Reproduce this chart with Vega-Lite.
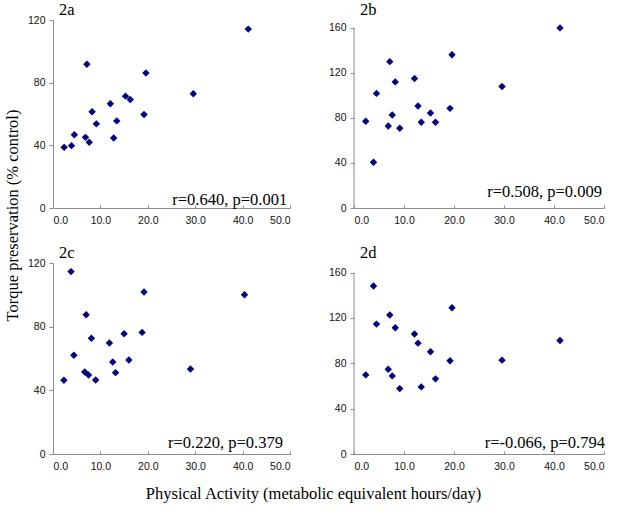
{
  "$schema": "https://vega.github.io/schema/vega-lite/v6.json",
  "background": "white",
  "padding": {"left": 4, "top": 1, "right": 5, "bottom": 5},
  "config": {
    "view": {"stroke": null},
    "axis": {
      "grid": false,
      "domainColor": "#8c8c8c",
      "tickColor": "#8c8c8c",
      "labelFont": "Liberation Sans",
      "labelFontSize": 10.5,
      "labelColor": "#111111",
      "titleFont": "Liberation Serif",
      "titleFontSize": 16.5,
      "titleFontWeight": "normal",
      "titleColor": "#000000"
    },
    "axisX": {"tickSize": -3, "labelPadding": 10, "format": ".1f", "values": [0, 10, 20, 30, 40, 50]},
    "axisY": {"tickSize": 4, "labelPadding": 4},
    "title": {"font": "Liberation Serif", "fontSize": 16.5, "fontWeight": "normal", "color": "#000000", "anchor": "start", "frame": "group", "baseline": "alphabetic"}
  },
  "datasets": {
    "pts": [
      {"panel": "2a", "pa": 2.35, "torque": 38.7}, {"panel": "2a", "pa": 3.9, "torque": 39.8}, {"panel": "2a", "pa": 4.5, "torque": 46.8},
      {"panel": "2a", "pa": 6.85, "torque": 45.1}, {"panel": "2a", "pa": 7.15, "torque": 91.8}, {"panel": "2a", "pa": 7.65, "torque": 42.0},
      {"panel": "2a", "pa": 8.25, "torque": 61.4}, {"panel": "2a", "pa": 9.15, "torque": 53.7}, {"panel": "2a", "pa": 12.1, "torque": 66.5},
      {"panel": "2a", "pa": 12.8, "torque": 44.7}, {"panel": "2a", "pa": 13.45, "torque": 55.6}, {"panel": "2a", "pa": 15.3, "torque": 71.4},
      {"panel": "2a", "pa": 16.3, "torque": 69.3}, {"panel": "2a", "pa": 19.2, "torque": 59.7}, {"panel": "2a", "pa": 19.6, "torque": 86.2},
      {"panel": "2a", "pa": 29.6, "torque": 72.9}, {"panel": "2a", "pa": 41.2, "torque": 114.2},
      {"panel": "2b", "pa": 2.35, "torque": 77.1}, {"panel": "2b", "pa": 3.9, "torque": 40.6}, {"panel": "2b", "pa": 4.5, "torque": 101.8},
      {"panel": "2b", "pa": 6.85, "torque": 72.9}, {"panel": "2b", "pa": 7.15, "torque": 130.0}, {"panel": "2b", "pa": 7.65, "torque": 82.6},
      {"panel": "2b", "pa": 8.25, "torque": 112.0}, {"panel": "2b", "pa": 9.15, "torque": 70.9}, {"panel": "2b", "pa": 12.1, "torque": 115.0},
      {"panel": "2b", "pa": 12.8, "torque": 90.6}, {"panel": "2b", "pa": 13.45, "torque": 76.2}, {"panel": "2b", "pa": 15.3, "torque": 84.4},
      {"panel": "2b", "pa": 16.3, "torque": 76.2}, {"panel": "2b", "pa": 19.2, "torque": 88.5}, {"panel": "2b", "pa": 19.6, "torque": 136.2},
      {"panel": "2b", "pa": 29.6, "torque": 107.9}, {"panel": "2b", "pa": 41.2, "torque": 160.0},
      {"panel": "2c", "pa": 2.3, "torque": 46.3}, {"panel": "2c", "pa": 3.8, "torque": 114.6}, {"panel": "2c", "pa": 4.4, "torque": 62.0},
      {"panel": "2c", "pa": 6.7, "torque": 51.5}, {"panel": "2c", "pa": 7.0, "torque": 87.5}, {"panel": "2c", "pa": 7.5, "torque": 49.6},
      {"panel": "2c", "pa": 8.1, "torque": 72.7}, {"panel": "2c", "pa": 9.0, "torque": 46.5}, {"panel": "2c", "pa": 11.9, "torque": 69.7},
      {"panel": "2c", "pa": 12.6, "torque": 57.8}, {"panel": "2c", "pa": 13.2, "torque": 51.1}, {"panel": "2c", "pa": 15.0, "torque": 75.6},
      {"panel": "2c", "pa": 16.0, "torque": 59.1}, {"panel": "2c", "pa": 18.8, "torque": 76.4}, {"panel": "2c", "pa": 19.2, "torque": 101.8},
      {"panel": "2c", "pa": 29.0, "torque": 53.4}, {"panel": "2c", "pa": 40.4, "torque": 100.1},
      {"panel": "2d", "pa": 2.35, "torque": 69.8}, {"panel": "2d", "pa": 3.9, "torque": 148.2}, {"panel": "2d", "pa": 4.5, "torque": 114.6},
      {"panel": "2d", "pa": 6.85, "torque": 74.8}, {"panel": "2d", "pa": 7.15, "torque": 122.6}, {"panel": "2d", "pa": 7.65, "torque": 68.9},
      {"panel": "2d", "pa": 8.25, "torque": 111.4}, {"panel": "2d", "pa": 9.15, "torque": 57.7}, {"panel": "2d", "pa": 12.1, "torque": 105.8},
      {"panel": "2d", "pa": 12.8, "torque": 97.8}, {"panel": "2d", "pa": 13.45, "torque": 59.2}, {"panel": "2d", "pa": 15.3, "torque": 90.2},
      {"panel": "2d", "pa": 16.3, "torque": 66.3}, {"panel": "2d", "pa": 19.2, "torque": 82.2}, {"panel": "2d", "pa": 19.6, "torque": 129.0},
      {"panel": "2d", "pa": 29.6, "torque": 82.8}, {"panel": "2d", "pa": 41.2, "torque": 100.2}
    ]
  },
  "data": {"name": "pts"},
  "bounds": "flush",
  "columns": 2,
  "spacing": {"row": 55, "column": 64},
  "concat": [
    {
      "width": 237, "height": 188,
      "title": {"text": "2a", "dx": 6, "offset": -3},
      "layer": [
        {
          "transform": [{"filter": "datum.panel == '2a'"}],
          "mark": {"type": "point", "shape": "diamond", "filled": true, "color": "#000080", "opacity": 1, "size": 55},
          "encoding": {
            "x": {"field": "pa", "type": "quantitative", "scale": {"domain": [0, 50], "nice": false}, "axis": {"title": null}},
            "y": {"field": "torque", "type": "quantitative", "scale": {"domain": [0, 120], "nice": false},
                  "axis": {"values": [0, 40, 80, 120], "title": "Torque preservation (% control)", "titleX": -36, "titleY": 195, "titleAlign": "center", "titleBaseline": "alphabetic", "titleAngle": 270}}
          }
        },
        {
          "data": {"values": [{"label": "r=0.640, p=0.001"}]},
          "mark": {"type": "text", "align": "right", "baseline": "alphabetic", "font": "Liberation Serif", "fontSize": 16.5, "color": "#000000"},
          "encoding": {"x": {"datum": 49.4}, "y": {"datum": 2}, "text": {"field": "label"}}
        }
      ]
    },
    {
      "width": 250, "height": 188,
      "title": {"text": "2b", "dx": 6, "offset": 2},
      "layer": [
        {
          "data": {"values": [{}]},
          "mark": {"type": "rule", "color": "#8c8c8c"},
          "encoding": {"x": {"datum": 0}, "y": {"datum": 0}, "y2": {"datum": 160}}
        },
        {
          "transform": [{"filter": "datum.panel == '2b'"}],
          "mark": {"type": "point", "shape": "diamond", "filled": true, "color": "#000080", "opacity": 1, "size": 55},
          "encoding": {
            "x": {"field": "pa", "type": "quantitative", "scale": {"domain": [0, 50], "nice": false}, "axis": {"title": null}},
            "y": {"field": "torque", "type": "quantitative", "scale": {"domain": [0, 167], "nice": false},
                  "axis": {"values": [0, 40, 80, 120, 160], "title": null, "domain": false}}
          }
        },
        {
          "data": {"values": [{"label": "r=0.508, p=0.009"}]},
          "mark": {"type": "text", "align": "right", "baseline": "alphabetic", "font": "Liberation Serif", "fontSize": 16.5, "color": "#000000"},
          "encoding": {"x": {"datum": 49.6}, "y": {"datum": 10}, "text": {"field": "label"}}
        }
      ]
    },
    {
      "width": 237, "height": 191,
      "title": {"text": "2c", "dx": 6, "offset": -3},
      "layer": [
        {
          "transform": [{"filter": "datum.panel == '2c'"}],
          "mark": {"type": "point", "shape": "diamond", "filled": true, "color": "#000080", "opacity": 1, "size": 55},
          "encoding": {
            "x": {"field": "pa", "type": "quantitative", "scale": {"domain": [0, 50], "nice": false},
                  "axis": {"title": "Physical Activity (metabolic equivalent hours/day)", "titleX": 260, "titleY": 44, "titleAlign": "center", "titleBaseline": "alphabetic"}},
            "y": {"field": "torque", "type": "quantitative", "scale": {"domain": [0, 120], "nice": false},
                  "axis": {"values": [0, 40, 80, 120], "title": null}}
          }
        },
        {
          "data": {"values": [{"label": "r=0.220, p=0.379"}]},
          "mark": {"type": "text", "align": "right", "baseline": "alphabetic", "font": "Liberation Serif", "fontSize": 16.5, "color": "#000000"},
          "encoding": {"x": {"datum": 48.5}, "y": {"datum": 4}, "text": {"field": "label"}}
        }
      ]
    },
    {
      "width": 250, "height": 191,
      "title": {"text": "2d", "dx": 6, "offset": 2},
      "layer": [
        {
          "data": {"values": [{}]},
          "mark": {"type": "rule", "color": "#8c8c8c"},
          "encoding": {"x": {"datum": 0}, "y": {"datum": 0}, "y2": {"datum": 160}}
        },
        {
          "transform": [{"filter": "datum.panel == '2d'"}],
          "mark": {"type": "point", "shape": "diamond", "filled": true, "color": "#000080", "opacity": 1, "size": 55},
          "encoding": {
            "x": {"field": "pa", "type": "quantitative", "scale": {"domain": [0, 50], "nice": false}, "axis": {"title": null}},
            "y": {"field": "torque", "type": "quantitative", "scale": {"domain": [0, 168.5], "nice": false},
                  "axis": {"values": [0, 40, 80, 120, 160], "title": null, "domain": false}}
          }
        },
        {
          "data": {"values": [{"label": "r=-0.066, p=0.794"}]},
          "mark": {"type": "text", "align": "right", "baseline": "alphabetic", "font": "Liberation Serif", "fontSize": 16.5, "color": "#000000"},
          "encoding": {"x": {"datum": 50.2}, "y": {"datum": 5.3}, "text": {"field": "label"}}
        }
      ]
    }
  ]
}
